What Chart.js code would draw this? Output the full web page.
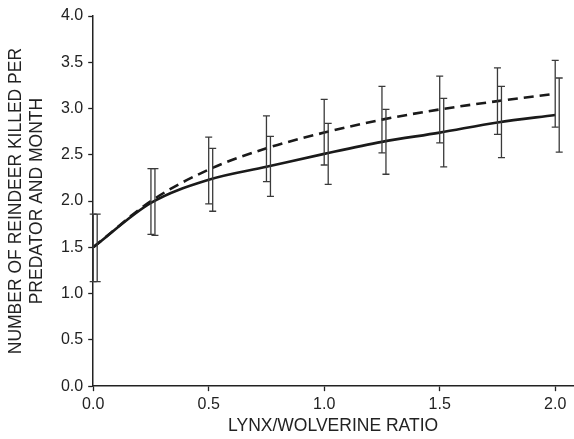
<!DOCTYPE html>
<html>
<head>
<meta charset="utf-8">
<script src="https://cdn.jsdelivr.net/npm/chart.js@4"></script>
<style>
  body { margin: 0; background: #fff; }
  #wrap { width: 574px; height: 439px; }
</style>
</head>
<body>
<div id="wrap"><canvas id="myChart" width="574" height="439"></canvas></div>
<script>
// lynx/wolverine ratio
const ratios = [0, 0.25, 0.5, 0.75, 1.0, 1.25, 1.5, 1.75, 2.0];

// dashed curve
const dashMean = [1.5, 2.0, 2.34, 2.57, 2.74, 2.88, 2.99, 3.08, 3.16];
const dashHi = [1.86, 2.35, 2.69, 2.92, 3.10, 3.24, 3.35, 3.44, 3.52];
const dashLo = [1.13, 1.64, 1.97, 2.21, 2.39, 2.52, 2.63, 2.72, 2.80];

// solid curve
const solidMean = [1.5, 1.98, 2.23, 2.37, 2.51, 2.64, 2.74, 2.85, 2.93];
const solidHi = [1.86, 2.35, 2.57, 2.70, 2.84, 2.99, 3.11, 3.24, 3.33];
const solidLo = [1.13, 1.63, 1.89, 2.05, 2.18, 2.29, 2.37, 2.47, 2.53];

const xTicks = [0, 0.5, 1.0, 1.5, 2.0];

const toPoints = (ys) => ratios.map((x, i) => ({ x: x, y: ys[i] }));

// draws the error bars with the chart scales
const errorBars = {
  id: "errorBars",
  afterDatasetsDraw(chart) {
    const ctx = chart.ctx;
    const xs = chart.scales.x;
    const ys = chart.scales.y;
    chart.data.datasets.forEach((ds) => {
      ctx.save();
      ctx.strokeStyle = "#3a3a3a";
      ctx.lineWidth = 1.3;
      ratios.forEach((r, i) => {
        const px = xs.getPixelForValue(r) + ds.barShift;
        const top = ys.getPixelForValue(ds.hi[i]);
        const bot = ys.getPixelForValue(ds.lo[i]);
        ctx.beginPath();
        ctx.moveTo(px, top);
        ctx.lineTo(px, bot);
        ctx.moveTo(px - 3.5, top);
        ctx.lineTo(px + 3.5, top);
        ctx.moveTo(px - 3.5, bot);
        ctx.lineTo(px + 3.5, bot);
        ctx.stroke();
      });
      ctx.restore();
    });
  },
};

Chart.defaults.font.family = "'Liberation Sans', Arial, sans-serif";
Chart.defaults.color = "#222";

new Chart("myChart", {
  type: "line",
  data: {
    datasets: [
      {
        data: toPoints(dashMean),
        hi: dashHi,
        lo: dashLo,
        barShift: 0,
        borderColor: "#1a1a1a",
        borderWidth: 2.6,
        borderDash: [10, 6],
        pointRadius: 0,
        cubicInterpolationMode: "monotone",
        fill: false,
      },
      {
        data: toPoints(solidMean),
        hi: solidHi,
        lo: solidLo,
        barShift: 4,
        borderColor: "#1a1a1a",
        borderWidth: 2.6,
        pointRadius: 0,
        cubicInterpolationMode: "monotone",
        fill: false,
      },
    ],
  },
  options: {
    responsive: false,
    animation: false,
    layout: { padding: { top: 16, right: 1, bottom: 3, left: 6 } },
    plugins: {
      legend: { display: false },
      tooltip: { enabled: false },
    },
    scales: {
      x: {
        type: "linear",
        min: 0,
        max: 2.077,
        afterBuildTicks: (axis) => {
          axis.ticks = xTicks.map((v) => ({ value: v }));
        },
        grid: {
          drawOnChartArea: false,
          color: "#222",
          tickLength: 5,
          tickWidth: 1.3,
        },
        border: { color: "#222", width: 1.5 },
        ticks: {
          font: { size: 16, lineHeight: 1.1 },
          padding: 5,
          maxRotation: 0,
          callback: (v) => Number(v).toFixed(1),
        },
        title: {
          display: true,
          text: "LYNX/WOLVERINE RATIO",
          font: { size: 17.5, lineHeight: 1.1 },
          padding: { top: -2, bottom: 0 },
        },
      },
      y: {
        min: 0,
        max: 4,
        ticks: {
          stepSize: 0.5,
          font: { size: 16 },
          padding: 5,
          callback: (v) => Number(v).toFixed(1),
        },
        grid: {
          drawOnChartArea: false,
          color: "#222",
          tickLength: 5,
          tickWidth: 1.3,
        },
        border: { color: "#222", width: 1.5 },
        title: {
          display: true,
          text: ["NUMBER OF REINDEER KILLED PER", "PREDATOR AND MONTH"],
          font: { size: 17.5, lineHeight: 1.17 },
          padding: { top: 0, bottom: 9 },
        },
      },
    },
  },
  plugins: [errorBars],
});
</script>
</body>
</html>
